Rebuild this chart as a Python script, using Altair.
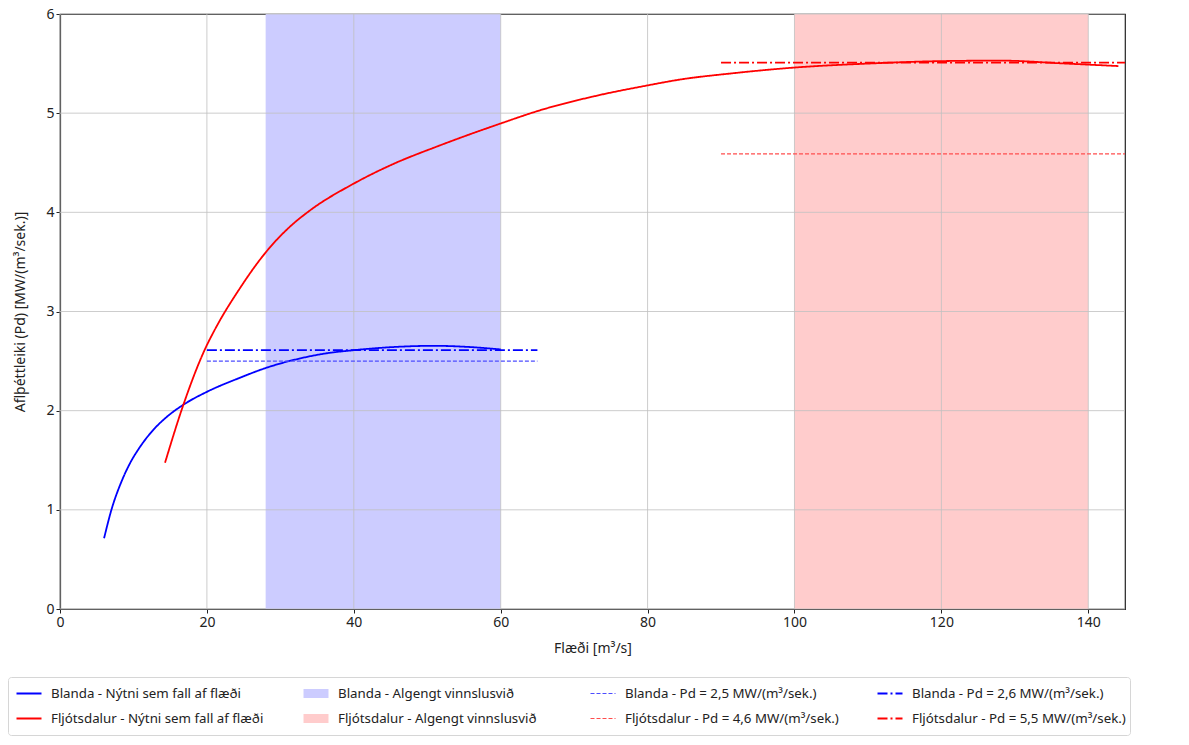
import altair as alt
import pandas as pd

# ---- data ----
blanda_x = [6.0, 7.0, 8.4, 9.5, 10.9, 12.9, 14.5, 16.8, 20.0, 24.3, 28.0, 32.7, 36.0, 40.0, 45.0, 51.0, 55.0, 60.0]
blanda_y = [0.713, 1.0, 1.29, 1.465, 1.635, 1.822, 1.935, 2.06, 2.19, 2.326, 2.43, 2.527, 2.575, 2.61, 2.64, 2.654, 2.645, 2.618]

fljot_x = [14.3, 16.8, 19.8, 21.1, 24.5, 28.05, 31.3, 34.05, 40.0, 45.0, 51.8, 60.0, 65.4, 72.7, 80.0,
           84.5, 91.3, 100.0, 110.0, 120.0, 128.0, 137.0, 144.1]
fljot_y = [1.475, 2.06, 2.63, 2.82, 3.235, 3.60, 3.855, 4.02, 4.29, 4.475, 4.677, 4.896, 5.03, 5.17, 5.28,
           5.34, 5.40, 5.46, 5.50, 5.525, 5.53, 5.50, 5.475]

L_BC = "Blanda - Nýtni sem fall af flæði"
L_FC = "Fljótsdalur - Nýtni sem fall af flæði"
L_BS = "Blanda - Algengt vinnslusvið"
L_FS = "Fljótsdalur - Algengt vinnslusvið"
L_B25 = "Blanda - Pd = 2,5 MW/(m³/sek.)"
L_F46 = "Fljótsdalur - Pd = 4,6 MW/(m³/sek.)"
L_B26 = "Blanda - Pd = 2,6 MW/(m³/sek.)"
L_F55 = "Fljótsdalur - Pd = 5,5 MW/(m³/sek.)"

span_labels = [L_BS, L_FS]
span_start = [28, 100]
span_end = [60, 140]

dash_labels = [L_B25, L_F46]
dash_values = [2.5, 4.59]
dash_start = [20, 90]
dash_end = [65, 145]

dashdot_labels = [L_B26, L_F55]
dashdot_values = [2.61, 5.51]
dashdot_start = [20, 90]
dashdot_end = [65, 145]

x_ticks = [0, 20, 40, 60, 80, 100, 120, 140]
y_ticks = [0, 1, 2, 3, 4, 5, 6]

# legend entries (filled column by column, 4 columns x 2 rows)
legend_order = [L_BC, L_FC, L_BS, L_FS, L_B25, L_F46, L_B26, L_F55]
legend_colors = ["#0000ff", "#ff0000", "#ccccff", "#ffcccc",
                 "#4d4dff", "#ff4d4d", "#0000ff", "#ff0000"]
legend_widths = [1.8, 1.8, 9, 9, 1.1, 1.1, 1.8, 1.8]
legend_dashes = [[1, 0], [1, 0], [1, 0], [1, 0],
                 [4, 2], [4, 2], [10, 3, 2, 3], [10, 3, 2, 3]]

# ---- tables ----
curves = pd.DataFrame({
    "x": blanda_x + fljot_x,
    "y": blanda_y + fljot_y,
    "series": [L_BC] * len(blanda_x) + [L_FC] * len(fljot_x),
})
spans = pd.DataFrame({"x": span_start, "x2": span_end, "series": span_labels})
dashed = pd.DataFrame({"x": dash_start, "x2": dash_end, "y": dash_values, "series": dash_labels})
dashdot = pd.DataFrame({"x": dashdot_start, "x2": dashdot_end, "y": dashdot_values, "series": dashdot_labels})
xgrid = pd.DataFrame({"x": x_ticks})
ygrid = pd.DataFrame({"y": y_ticks})

FONT = "Noto Sans"

legend = alt.Legend(
    title=None,
    orient="none",
    legendX=-52,
    legendY=663,
    columns=4,
    gridAlign="all",
    columnPadding=34,
    rowPadding=0,
    clipHeight=25,
    labelFont=FONT,
    labelFontSize=13.3,
    labelColor="#222222",
    labelLimit=500,
    labelOffset=5,
    symbolType="stroke",
    symbolSize=625,
    symbolOpacity=1,
    padding=4,
    strokeColor="#d6d6d6",
    fillColor="white",
    cornerRadius=3,
)

color = alt.Color("series:N", scale=alt.Scale(domain=legend_order, range=legend_colors), legend=legend)
swidth = alt.StrokeWidth("series:N", scale=alt.Scale(type="ordinal", domain=legend_order, range=legend_widths), legend=legend)
sdash = alt.StrokeDash("series:N", scale=alt.Scale(domain=legend_order, range=legend_dashes), legend=legend)

xscale = alt.Scale(domain=[0, 145], nice=False, zero=False)
yscale = alt.Scale(domain=[0, 6], nice=False)
xenc = alt.X("x:Q", scale=xscale,
             axis=alt.Axis(values=x_ticks, title="Flæði [m³/s]", format="d"))
yenc = alt.Y("y:Q", scale=yscale,
             axis=alt.Axis(values=y_ticks, title="Aflþéttleiki (Pd) [MW/(m³/sek.)]", format="d"))

span_layer = alt.Chart(spans).mark_rect().encode(x=xenc, x2="x2:Q", color=color)
xgrid_layer = alt.Chart(xgrid).mark_rule(color="#c0c0c0", strokeWidth=1, opacity=0.8).encode(x=xenc)
ygrid_layer = alt.Chart(ygrid).mark_rule(color="#c0c0c0", strokeWidth=1, opacity=0.8).encode(y=yenc)
curve_layer = alt.Chart(curves).mark_line(interpolate="monotone").encode(
    x=xenc, y=yenc, color=color, strokeWidth=swidth, strokeDash=sdash
)
dash_layer = alt.Chart(dashed).mark_rule().encode(
    x=xenc, x2="x2:Q", y=yenc, color=color, strokeWidth=swidth, strokeDash=sdash
)
dashdot_layer = alt.Chart(dashdot).mark_rule().encode(
    x=xenc, x2="x2:Q", y=yenc, color=color, strokeWidth=swidth, strokeDash=sdash
)

chart = (
    alt.layer(span_layer, xgrid_layer, ygrid_layer, curve_layer, dash_layer, dashdot_layer)
    .properties(
        width=1065,
        height=595,
        autosize=alt.AutoSizeParams(type="none"),
        padding={"left": 52, "top": 6, "right": 56, "bottom": 128},
    )
    .configure_view(stroke="#222222", strokeWidth=1.2)
    .configure_axis(
        grid=False,
        domainColor="#222222",
        domainWidth=1.2,
        tickColor="#222222",
        tickSize=4,
        labelFont=FONT,
        labelFontSize=14,
        labelColor="#222222",
        labelPadding=2,
        titleFont=FONT,
        titleFontSize=14,
        titleFontWeight="normal",
        titleColor="#222222",
    )
    .configure_axisX(titlePadding=12, labelFlush=False)
    .configure_axisY(titlePadding=18)
)

chart.save("out.html", embed_options={"renderer": "svg", "actions": False})
